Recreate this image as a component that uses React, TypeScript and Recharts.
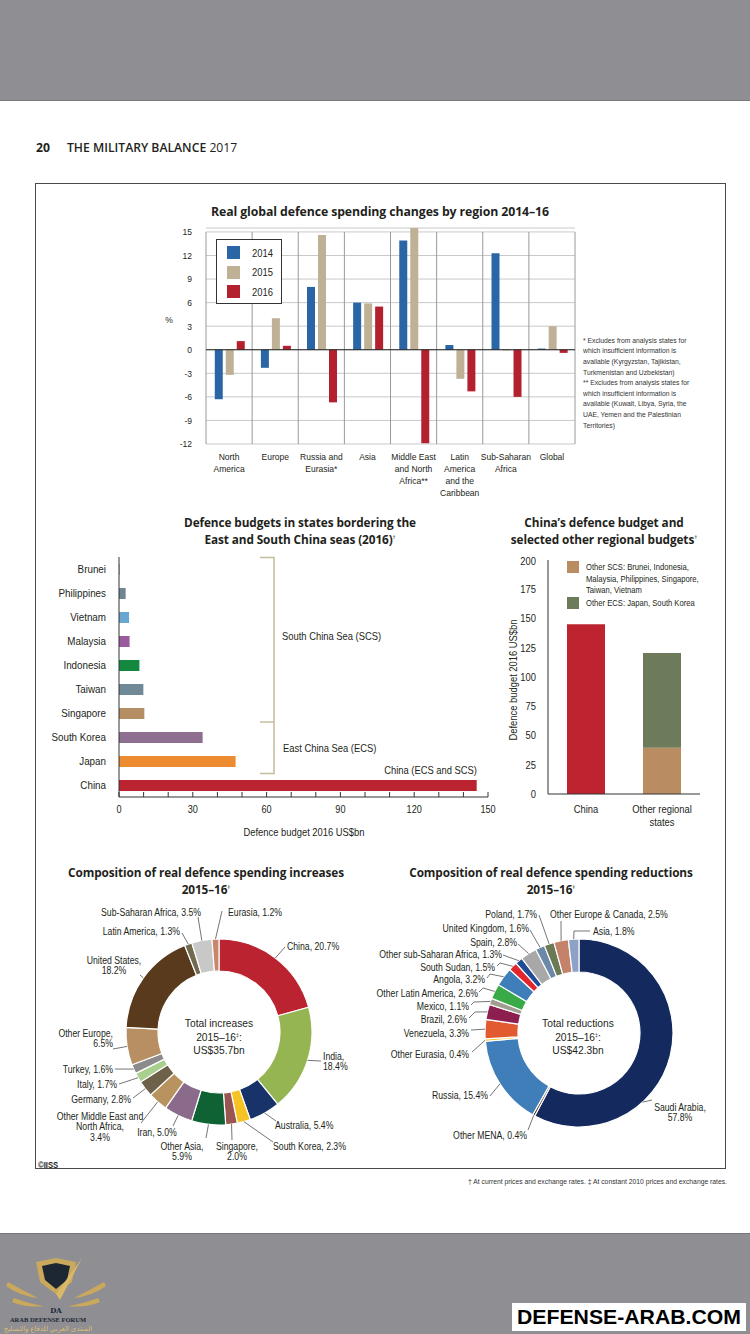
import React from 'react';
import {
  BarChart, Bar, XAxis, YAxis, CartesianGrid, ReferenceLine, Cell, PieChart, Pie,
} from 'recharts';

const BASE = "'Liberation Sans', Arial, sans-serif";
const HEAD = "'Open Sans', 'Noto Sans', sans-serif";
const INK = '#231f20';
const SX = 0.87; // horizontal condensing to mimic the condensed label face

// ---------- Chart 1: real global defence spending changes ----------
const REGIONS = ['North\nAmerica', 'Europe', 'Russia and\nEurasia*', 'Asia', 'Middle East\nand North\nAfrica**', 'Latin\nAmerica\nand the\nCaribbean', 'Sub-Saharan\nAfrica', 'Global'];
const CHG_2014 = [-6.3, -2.3, 8.0, 6.0, 13.9, 0.6, 12.3, 0.15];
const CHG_2015 = [-3.2, 4.0, 14.6, 5.9, 15.5, -3.7, -0.1, 3.0];
const CHG_2016 = [1.1, 0.5, -6.7, 5.5, -11.9, -5.3, -6.0, -0.4];
const CHG_TICKS = [-12, -9, -6, -3, 0, 3, 6, 9, 12, 15];
const YEARS = ['2014', '2015', '2016'];
const YEAR_COLORS = ['#2a66a5', '#bfb195', '#b3202e'];

// ---------- Chart 2: defence budgets bordering ECS/SCS ----------
const STATES = ['Brunei', 'Philippines', 'Vietnam', 'Malaysia', 'Indonesia', 'Taiwan', 'Singapore', 'South Korea', 'Japan', 'China'];
const BUDGETS = [0.4, 2.7, 4.1, 4.3, 8.3, 9.9, 10.3, 34.0, 47.4, 145.4];
const STATE_COLORS = ['#c9bda3', '#6f8592', '#6aa7d0', '#9b5a9d', '#12893f', '#6f8a96', '#b58f63', '#8f6f8f', '#ec8b2f', '#bc2330'];
const BUDGET_TICKS = [0, 10, 20, 30, 40, 50, 60, 70, 80, 90, 100, 110, 120, 130, 140, 150];

// ---------- Chart 3: China vs other regional budgets ----------
const GROUPS = ['China', 'Other regional\nstates'];
const GROUP_CHINA = [145, null];
const GROUP_SCS = [null, 39.5];
const GROUP_ECS = [null, 81.0];
const GROUP_TICKS = [0, 25, 50, 75, 100, 125, 150, 175, 200];
const GROUP_COLORS = ['#bd2430', '#b98d61', '#6e7b5a'];

// ---------- Chart 4: composition of increases ----------
const INC_NAMES = ['China', 'India', 'Australia', 'South Korea', 'Singapore', 'Other Asia', 'Iran', 'Other Middle East and\nNorth Africa', 'Germany', 'Italy', 'Turkey', 'Other Europe', 'United States', 'Latin America', 'Sub-Saharan Africa', 'Eurasia'];
const INC_VALUES = [20.7, 18.4, 5.4, 2.3, 2.0, 5.9, 5.0, 3.4, 2.8, 1.7, 1.6, 6.5, 18.2, 1.3, 3.5, 1.2];
const INC_COLORS = ['#bb2330', '#95b553', '#18336a', '#f6c324', '#9a5550', '#0e6233', '#8b6b8c', '#b8925f', '#6d6249', '#a9cf8f', '#8b8b8b', '#b88f63', '#5a3a1d', '#716a4e', '#c8c8c8', '#c8876a'];

// ---------- Chart 5: composition of reductions ----------
const RED_NAMES = ['Saudi Arabia', 'Other MENA', 'Russia', 'Other Eurasia', 'Venezuela', 'Brazil', 'Mexico', 'Other Latin America', 'Angola', 'South Sudan', 'Other sub-Saharan Africa', 'Spain', 'United Kingdom', 'Poland', 'Other Europe & Canada', 'Asia'];
const RED_VALUES = [57.8, 0.4, 15.4, 0.4, 3.3, 2.6, 1.1, 2.6, 3.2, 1.5, 1.3, 2.8, 1.6, 1.7, 2.5, 1.8];
const RED_COLORS = ['#142a5e', '#5b3a1e', '#3f7eb8', '#f6c324', '#e25a30', '#8c1f50', '#a09e90', '#3aaa48', '#3f7eb8', '#e3262d', '#1f4b97', '#a8a8a8', '#6c89aa', '#6a7a55', '#c4826a', '#8ea2c8'];

// label layout (page coordinates) for the donut annotations
type LabelLayout = { tx: number; ty: number; anchor: 'start' | 'middle' | 'end'; pts: number[][]; wrap?: boolean; frac?: number };
const INC_LABELS: LabelLayout[] = [
  { tx: 287, ty: 946, anchor: 'start', pts: [[285, 947]] },
  { tx: 323, ty: 1056, anchor: 'start', pts: [[321, 1061]], wrap: true },
  { tx: 275, ty: 1125, anchor: 'start', pts: [[276, 1121]] },
  { tx: 273, ty: 1146, anchor: 'start', pts: [[273, 1142]] },
  { tx: 237, ty: 1146, anchor: 'middle', pts: [[232, 1140]], wrap: true },
  { tx: 182, ty: 1146, anchor: 'middle', pts: [[206, 1138]], wrap: true },
  { tx: 157, ty: 1132, anchor: 'middle', pts: [[173, 1126]] },
  { tx: 100, ty: 1116, anchor: 'middle', pts: [[141, 1123]], wrap: true },
  { tx: 131, ty: 1099, anchor: 'end', pts: [[133, 1098]] },
  { tx: 117, ty: 1084, anchor: 'end', pts: [[119, 1084]] },
  { tx: 113, ty: 1069, anchor: 'end', pts: [[115, 1069]] },
  { tx: 113, ty: 1033, anchor: 'end', pts: [[113, 1049]], wrap: true },
  { tx: 114, ty: 960, anchor: 'middle', pts: [[140, 975]], wrap: true },
  { tx: 180, ty: 931, anchor: 'end', pts: [[182, 933]] },
  { tx: 201, ty: 912, anchor: 'end', pts: [[198, 917]] },
  { tx: 228, ty: 912, anchor: 'start', pts: [[222, 911]] },
];
const RED_LABELS: LabelLayout[] = [
  { tx: 680, ty: 1107, anchor: 'middle', pts: [[652, 1100]], wrap: true, frac: 0.66 },
  { tx: 527, ty: 1135, anchor: 'end', pts: [[528, 1130]] },
  { tx: 488, ty: 1095, anchor: 'end', pts: [[490, 1096]] },
  { tx: 469, ty: 1054, anchor: 'end', pts: [[472, 1052]] },
  { tx: 469, ty: 1033, anchor: 'end', pts: [[471, 1030]] },
  { tx: 467, ty: 1019, anchor: 'end', pts: [[469, 1018], [475, 1012]] },
  { tx: 469, ty: 1006, anchor: 'end', pts: [[471, 1005], [474, 1002]] },
  { tx: 478, ty: 993, anchor: 'end', pts: [[479, 992], [483, 988]] },
  { tx: 485, ty: 979, anchor: 'end', pts: [[487, 978], [490, 974]] },
  { tx: 495, ty: 967, anchor: 'end', pts: [[497, 966], [500, 963]] },
  { tx: 502, ty: 954, anchor: 'end', pts: [[503, 955]] },
  { tx: 517, ty: 942, anchor: 'end', pts: [[518, 944]] },
  { tx: 529, ty: 928, anchor: 'end', pts: [[530, 930]] },
  { tx: 537, ty: 914, anchor: 'end', pts: [[539, 915]] },
  { tx: 550, ty: 914, anchor: 'start', pts: [[561, 921]] },
  { tx: 593, ty: 931, anchor: 'start', pts: [[590, 931], [574, 931]] },
];

const FOOTNOTE_LINES = [
  '* Excludes from analysis states for',
  'which insufficient information is',
  'available (Kyrgyzstan, Tajikistan,',
  'Turkmenistan and Uzbekistan)',
  '** Excludes from analysis states for',
  'which insufficient information is',
  'available (Kuwait, Libya, Syria, the',
  'UAE, Yemen and the Palestinian',
  'Territories)',
];

const chgRows = REGIONS.map((r, i) => ({ region: r, y2014: CHG_2014[i], y2015: CHG_2015[i], y2016: CHG_2016[i] }));
const CHG_TOP = Math.max(15, ...CHG_2014, ...CHG_2015, ...CHG_2016);
const budgetRows = STATES.map((s, i) => ({ state: s, value: BUDGETS[i] }));
const groupRows = GROUPS.map((g, i) => ({ group: g, china: GROUP_CHINA[i], scs: GROUP_SCS[i], ecs: GROUP_ECS[i] }));
const incRows = INC_NAMES.map((n, i) => ({ name: n, value: INC_VALUES[i] }));
const redRows = RED_NAMES.map((n, i) => ({ name: n, value: RED_VALUES[i] }));

const abs = (left: number, top: number, extra: React.CSSProperties = {}): React.CSSProperties => ({ position: 'absolute', left, top, ...extra });

// condensed svg text
function SText({ x, y, lines, anchor = 'start', size = 10, lh = 11, dy = '0.35em', weight = 400, fill = INK, rotate = 0 }:
  { x: number; y: number; lines: React.ReactNode[]; anchor?: any; size?: number; lh?: number; dy?: any; weight?: number; fill?: string; rotate?: number }) {
  return (
    <g transform={`translate(${x},${y}) rotate(${rotate}) scale(${SX},1)`}>
      <text x={0} y={0} textAnchor={anchor} fontFamily={BASE} fontSize={size} fontWeight={weight} fill={fill}>
        {lines.map((l, i) => <tspan key={i} x={0} dy={i === 0 ? dy : lh}>{l}</tspan>)}
      </text>
    </g>
  );
}

const SupT = ({ c }: { c: string }) => <tspan fontSize={6} baselineShift="super">{c}</tspan>;

function Title({ x, y, lines, width = 340, size = 11.8 }: { x: number; y: number; lines: React.ReactNode[]; width?: number; size?: number }) {
  return (
    <div style={abs(x - width / 2, y - 8, { width, textAlign: 'center', fontFamily: HEAD, fontWeight: 700, fontSize: size, lineHeight: '15px', color: INK, letterSpacing: -0.1, whiteSpace: 'nowrap' })}>
      {lines.map((l, i) => <div key={i}>{l}</div>)}
    </div>
  );
}

const Sup = ({ c }: { c: string }) => <sup style={{ fontSize: 6, fontWeight: 400, verticalAlign: 'super' }}>{c}</sup>;

const XMulti = (size: number, lh: number, dy: number) => (p: any) => (
  <SText x={p.x} y={p.y} anchor="middle" size={size} lh={lh} dy={dy} lines={String(p.payload.value).split('\n')} />
);
const YTick = (size: number) => (p: any) => (
  <SText x={p.x} y={p.y} anchor="end" size={size} lines={[String(p.payload.value)]} />
);

function pieLabel(names: string[], values: number[], layout: LabelLayout[], ox: number, oy: number) {
  return (p: any) => {
    const i = p.index;
    const L = layout[i];
    if (!L) return null;
    const RAD = Math.PI / 180;
    const ang = L.frac != null ? p.startAngle + (p.endAngle - p.startAngle) * L.frac : p.midAngle;
    const r = p.outerRadius;
    const ex = p.cx + r * Math.cos(-ang * RAD);
    const ey = p.cy + r * Math.sin(-ang * RAD);
    const parts = names[i].split('\n');
    const val = values[i].toFixed(1) + '%';
    const last = parts[parts.length - 1];
    const lines = L.wrap ? [...parts.slice(0, -1), last + ',', val] : [...parts.slice(0, -1), last + ', ' + val];
    const poly = [...L.pts.map(([x, y]) => [x - ox, y - oy]), [ex, ey]].map((q) => q.join(',')).join(' ');
    return (
      <g key={'lab' + i}>
        <polyline points={poly} fill="none" stroke="#3a3a3a" strokeWidth={0.7} />
        <SText x={L.tx - ox} y={L.ty - oy} anchor={L.anchor} size={10} lh={11} lines={lines} />
      </g>
    );
  };
}

export default function App() {
  const INC_BOX = { x: 40, y: 860 };
  const RED_BOX = { x: 370, y: 860 };
  return (
    <div style={{ position: 'relative', width: 750, height: 1334, background: '#fff', overflow: 'hidden', fontFamily: BASE, color: INK }}>
      <style>{'body{margin:0;}'}</style>

      {/* page chrome */}
      <div style={abs(0, 0, { width: 750, height: 100, background: '#8f8e93', borderBottom: '1px solid #77767a' })} />
      <div style={abs(36, 140, { fontFamily: HEAD, fontSize: 12.2, lineHeight: '16px', color: INK, whiteSpace: 'nowrap' })}>
        <span style={{ fontWeight: 700 }}>20</span>
        <span style={{ display: 'inline-block', width: 17 }} />
        <span style={{ fontWeight: 600 }}>THE MILITARY BALANCE</span> <span>2017</span>
      </div>
      <div style={abs(35, 183, { width: 691, height: 986, border: '1px solid #4a4a4a', boxSizing: 'border-box' })} />

      {/* Chart 1 */}
      <Title x={380} y={212} lines={['Real global defence spending changes by region 2014–16']} width={400} size={12.3} />
      <div style={abs(150, 222)}>
        <BarChart width={440} height={285} data={chgRows} margin={{ top: 6, right: 15, left: 0, bottom: 0 }} barCategoryGap="19%" barGap={3}>
          <CartesianGrid vertical={false} stroke="#c9c9c9" strokeWidth={1} />
          <XAxis dataKey="region" interval={0} tickLine={false} axisLine={false} height={63} tick={XMulti(9.8, 12, 8)} />
          <YAxis domain={[-12, CHG_TOP]} ticks={CHG_TICKS} width={56} tickLine={false} axisLine={false} tickMargin={8} tick={YTick(9.8)} />
          {REGIONS.map((r) => (
            <ReferenceLine key={r} segment={[{ x: r, y: -12 }, { x: r, y: 15 }]} position="start" stroke="#9a9a9a" strokeWidth={1} />
          ))}
          <ReferenceLine segment={[{ x: REGIONS[REGIONS.length - 1], y: -12 }, { x: REGIONS[REGIONS.length - 1], y: 15 }]} position="end" stroke="#9a9a9a" strokeWidth={1} />
          <Bar dataKey="y2014" fill={YEAR_COLORS[0]} isAnimationActive={false} />
          <Bar dataKey="y2015" fill={YEAR_COLORS[1]} isAnimationActive={false} />
          <Bar dataKey="y2016" fill={YEAR_COLORS[2]} isAnimationActive={false} />
          <ReferenceLine y={0} stroke="#222" strokeWidth={1} />
        </BarChart>
      </div>
      <div style={abs(216, 239, { width: 66, height: 65, border: '1px solid #333', boxSizing: 'border-box', background: '#fff' })}>
        {YEARS.map((yr, i) => (
          <div key={yr} style={abs(10, 6 + i * 19.5, { width: 13, height: 13, background: YEAR_COLORS[i] })} />
        ))}
      </div>

      {/* Chart 2 */}
      <Title x={300} y={523} lines={['Defence budgets in states bordering the', <span key="b">East and South China seas (2016)<Sup c="†" /></span>]} />
      <div style={abs(40, 550)}>
        <BarChart width={460} height={300} data={budgetRows} layout="vertical" margin={{ top: 7, right: 12, left: 0, bottom: 23 }} barSize={11}>
          <XAxis type="number" domain={[0, 150]} ticks={BUDGET_TICKS} interval={0} height={30}
            tickSize={-5} tickMargin={14} stroke="#333" axisLine={{ stroke: '#333' }} tickLine={{ stroke: '#333' }}
            tick={(p: any) => (p.payload.value % 30 === 0 ? <SText x={p.x} y={p.y} anchor="middle" size={10.5} dy="0.71em" lines={[String(p.payload.value)]} /> : <g />)} />
          <YAxis type="category" dataKey="state" width={79} tickLine={false} tickMargin={7} axisLine={{ stroke: '#333' }} tick={YTick(11.3)} />
          <Bar dataKey="value" isAnimationActive={false}>
            {budgetRows.map((r, i) => <Cell key={r.state} fill={STATE_COLORS[i]} />)}
          </Bar>
        </BarChart>
      </div>

      {/* Chart 3 */}
      <Title x={604} y={523} lines={['China’s defence budget and', <span key="b">selected other regional budgets<Sup c="†" /></span>]} width={220} />
      <div style={abs(500, 552)}>
        <BarChart width={215} height={285} data={groupRows} margin={{ top: 8, right: 15, left: 0, bottom: 0 }} barCategoryGap="25%">
          <XAxis dataKey="group" interval={0} tickLine={false} height={43} axisLine={{ stroke: '#333' }} tick={XMulti(10.8, 13, 11)} />
          <YAxis domain={[0, 200]} ticks={GROUP_TICKS} width={48} tickLine={false} tickMargin={6} axisLine={{ stroke: '#333' }} tick={YTick(10.8)} />
          <Bar dataKey="china" stackId="a" fill={GROUP_COLORS[0]} isAnimationActive={false} />
          <Bar dataKey="scs" stackId="a" fill={GROUP_COLORS[1]} isAnimationActive={false} />
          <Bar dataKey="ecs" stackId="a" fill={GROUP_COLORS[2]} isAnimationActive={false} />
        </BarChart>
      </div>
      <div style={abs(567, 561, { width: 12, height: 12, background: GROUP_COLORS[1] })} />
      <div style={abs(567, 597, { width: 12, height: 12, background: GROUP_COLORS[2] })} />

      {/* Chart 4 */}
      <Title x={206} y={873} lines={['Composition of real defence spending increases', <span key="b">2015–16<Sup c="‡" /></span>]} width={320} />
      <div style={abs(INC_BOX.x, INC_BOX.y)}>
        <PieChart width={330} height={310} margin={{ top: 0, right: 0, bottom: 0, left: 0 }}>
          <Pie data={incRows} dataKey="value" nameKey="name" cx={179} cy={172} innerRadius={61} outerRadius={93}
            startAngle={90} endAngle={-270} stroke="#fff" strokeWidth={1.2} isAnimationActive={false}
            labelLine={false} label={pieLabel(INC_NAMES, INC_VALUES, INC_LABELS, INC_BOX.x, INC_BOX.y)}>
            {incRows.map((r, i) => <Cell key={r.name} fill={INC_COLORS[i]} />)}
          </Pie>
        </PieChart>
      </div>

      {/* Chart 5 */}
      <Title x={551} y={873} lines={['Composition of real defence spending reductions', <span key="b">2015–16<Sup c="‡" /></span>]} width={320} />
      <div style={abs(RED_BOX.x, RED_BOX.y)}>
        <PieChart width={360} height={310} margin={{ top: 0, right: 0, bottom: 0, left: 0 }}>
          <Pie data={redRows} dataKey="value" nameKey="name" cx={209} cy={173} innerRadius={61} outerRadius={94}
            startAngle={90} endAngle={-270} stroke="#fff" strokeWidth={1.2} isAnimationActive={false}
            labelLine={false} label={pieLabel(RED_NAMES, RED_VALUES, RED_LABELS, RED_BOX.x, RED_BOX.y)}>
            {redRows.map((r, i) => <Cell key={r.name} fill={RED_COLORS[i]} />)}
          </Pie>
        </PieChart>
      </div>

      {/* text annotations overlay */}
      <svg style={abs(0, 0)} width={750} height={1334} pointerEvents="none">
        <SText x={169} y={320} anchor="middle" size={9.8} lines={['%']} />
        {YEARS.map((yr, i) => <SText key={yr} x={252} y={253 + i * 19.5} size={10.8} lines={[yr]} />)}
        <SText x={583} y={340} size={7.8} lh={10.6} fill="#333" lines={FOOTNOTE_LINES} />

        <polyline points="260,557.5 274,557.5 274,773.5 260,773.5" fill="none" stroke="#c8bc9f" strokeWidth={1.5} />
        <line x1={260} y1={722} x2={274} y2={722} stroke="#c8bc9f" strokeWidth={1.5} />
        <SText x={282} y={636} size={10.8} lines={['South China Sea (SCS)']} />
        <SText x={283} y={748} size={10.8} lines={['East China Sea (ECS)']} />
        <SText x={477} y={770} anchor="end" size={10.8} lines={['China (ECS and SCS)']} />
        <SText x={304} y={832} anchor="middle" size={10.8} lines={['Defence budget 2016 US$bn']} />

        <SText x={513} y={680} anchor="middle" size={10.8} rotate={-90} lines={['Defence budget 2016 US$bn']} />
        <SText x={586} y={567} size={8.8} lh={11.5} lines={['Other SCS: Brunei, Indonesia,', 'Malaysia, Philippines, Singapore,', 'Taiwan, Vietnam']} />
        <SText x={586} y={603} size={8.8} lines={['Other ECS: Japan, South Korea']} />

        <SText x={219} y={1023} anchor="middle" size={11.8} lh={13.5} lines={['Total increases', <tspan key="a">2015–16<SupT c="‡" />:</tspan>, 'US$35.7bn']} />
        <SText x={578} y={1023} anchor="middle" size={11.8} lh={13.5} lines={['Total reductions', <tspan key="a">2015–16<SupT c="‡" />:</tspan>, 'US$42.3bn']} />

        <SText x={38} y={1165} size={8.8} weight={700} lines={['©IISS']} />
        <SText x={727} y={1181} anchor="end" size={7.8} fill="#333" lines={['† At current prices and exchange rates.  ‡ At constant 2010 prices and exchange rates.']} />
      </svg>

      {/* bottom band */}
      <div style={abs(0, 1233, { width: 750, height: 101, background: '#8f8e93', borderTop: '1px solid #77767a' })} />
      <svg style={abs(0, 1250)} width={110} height={84}>
        <path d="M36 12 L56 8 L76 12 L72 32 L56 44 L40 32 Z" fill="#caa85c" />
        <path d="M42 16 L56 13 L70 16 L67 30 L56 39 L45 30 Z" fill="#1c2733" />
        <path d="M56 44 L82 8 L60 50 Z" fill="#d9b86a" />
        <path d="M8 32 Q22 40 38 48 Q20 46 6 36 Z" fill="#caa85c" />
        <path d="M104 32 Q90 40 74 48 Q92 46 106 36 Z" fill="#caa85c" />
        <path d="M14 48 Q30 54 44 56 Q26 58 12 52 Z" fill="#caa85c" />
        <path d="M98 48 Q82 54 68 56 Q86 58 100 52 Z" fill="#caa85c" />
        <text x={56} y={63} textAnchor="middle" fontFamily="'DejaVu Serif', serif" fontWeight={700} fontSize={7} fill="#1c2733">DA</text>
        <text x={48} y={72} textAnchor="middle" fontFamily="'Liberation Serif', serif" fontWeight={700} fontSize={6.5} fill="#1c2733">ARAB DEFENSE FORUM</text>
        <text x={48} y={81} textAnchor="middle" fontFamily="'Noto Sans', 'DejaVu Sans', sans-serif" fontSize={7} fill="#d8bd74">المنتدى العربي للدفاع والتسليح</text>
      </svg>
      <div style={abs(512, 1303, { width: 234, height: 28, background: '#fff' })} />
      <svg style={abs(512, 1300)} width={234} height={34}>
        <text x={5} y={24} fontFamily="'Liberation Sans', Arial, sans-serif" fontWeight={700} fontSize={21} textLength={224} lengthAdjust="spacingAndGlyphs" fill="#000">DEFENSE-ARAB.COM</text>
      </svg>
    </div>
  );
}
